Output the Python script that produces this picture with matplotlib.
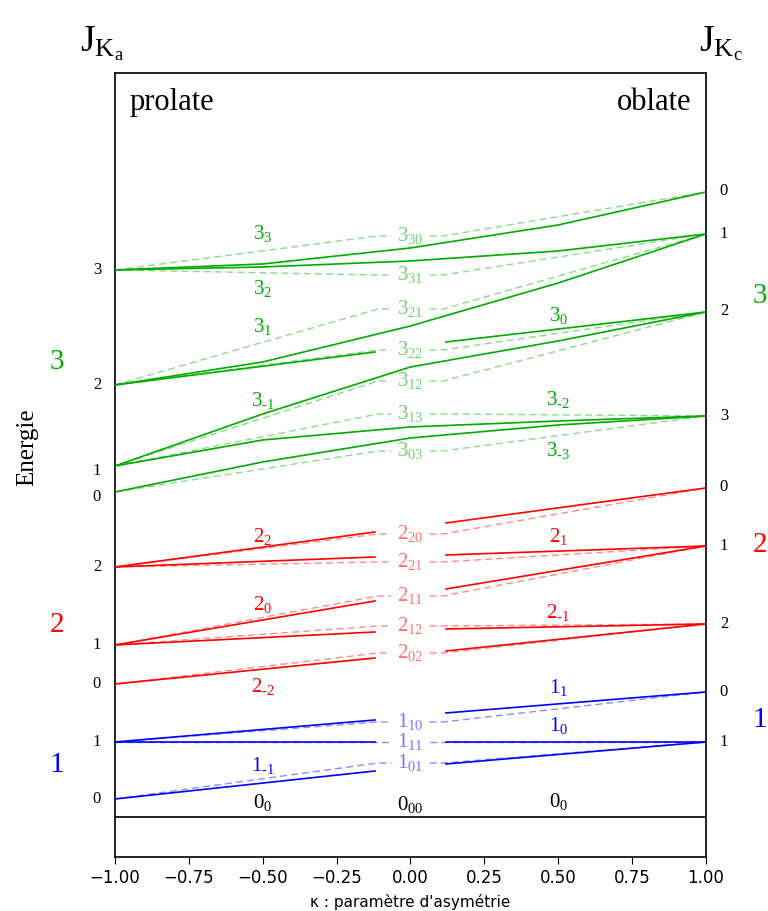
import numpy as np
import matplotlib
matplotlib.use('Agg')
import matplotlib.pyplot as plt

plt.rcParams['font.family'] = ['Liberation Serif', 'DejaVu Serif']
plt.rcParams['mathtext.fontset'] = 'custom'
plt.rcParams['mathtext.rm'] = 'Liberation Serif'
plt.rcParams['mathtext.it'] = 'Liberation Serif:italic'
plt.rcParams['mathtext.bf'] = 'Liberation Serif:bold'

nan = np.nan

# points en kappa pour les courbes
kappa_full = [-1.0, -0.5, 0.0, 0.5, 1.0]
kappa_split = [-1.0, -0.12, nan, 0.12, 1.0]

# niveau J=0
J0_energy = 0.0

# J = 1 : niveaux 1_01, 1_11, 1_10
J1_names = ['01', '11', '10']
J1_left = [1.8, 7.5, 7.5]
J1_mid = [5.4, 7.5, 9.5]
J1_right = [7.5, 7.5, 12.5]
J1_solid = [[1.8, 4.6, nan, 5.3, 7.5],
            [7.5, 7.5, nan, 7.5, 7.5],
            [7.5, 9.7, nan, 10.4, 12.5]]

# J = 2
J2_names = ['02', '12', '11', '21', '20']
J2_left = [13.3, 17.2, 17.2, 25.0, 25.0]
J2_mid = [16.4, 19.1, 22.1, 25.5, 28.3]
J2_right = [19.3, 19.3, 27.1, 27.1, 32.9]
J2_solid = [[13.3, 15.9, nan, 16.6, 19.3],
            [17.2, 18.5, nan, 18.8, 19.3],
            [17.2, 21.6, nan, 22.8, 27.1],
            [25.0, 26.0, nan, 26.2, 27.1],
            [25.0, 28.5, nan, 29.4, 32.9]]

# J = 3
J3_names = ['03', '13', '12', '22', '21', '31', '30']
J3_left = [32.5, 35.1, 35.1, 43.2, 43.2, 54.7, 54.7]
J3_mid = [36.6, 40.3, 43.6, 46.7, 50.8, 54.2, 58.1]
J3_right = [40.1, 40.1, 50.5, 50.5, 58.3, 58.3, 62.5]
J3_solid = [[32.5, 35.5, 37.9, 39.2, 40.1],
            [35.1, 37.7, 39.0, 39.6, 40.1],
            [35.1, 40.3, 45.0, 47.6, 50.5],
            [43.2, 46.5, nan, 47.5, 50.5],
            [43.2, 45.5, 49.1, 53.4, 58.3],
            [54.7, 55.0, 55.6, 56.6, 58.3],
            [54.7, 55.3, 56.9, 59.2, 62.5]]
J3_split = [False, False, False, True, False, False, False]

# etiquettes K (prolate a gauche, oblate a droite)
left_K_text = ['0', '1', '0', '1', '2', '0', '1', '2', '3']
left_K_y = [1.8, 7.5, 13.3, 17.2, 25.0, 32.0, 34.6, 43.2, 54.7]
right_K_text = ['1', '0', '2', '1', '0', '3', '2', '1', '0']
right_K_y = [7.5, 12.5, 19.3, 27.1, 33.0, 40.1, 50.6, 58.3, 62.6]

J_values = ['1', '2', '3']
J_colors = ['#0000ff', '#ff0000', '#00aa00']
J_left_y = [5.2, 19.2, 45.5]
J_right_y = [9.7, 27.2, 52.1]

# etiquettes J_K le long des courbes
prol_text = [r'$1_{\text{-1}}$', r'$2_{\text{-2}}$', r'$2_0$', r'$2_2$',
             r'$3_{\text{-1}}$', r'$3_1$', r'$3_2$', r'$3_3$']
prol_y = [5.1, 13.0, 21.2, 28.0, 41.6, 49.0, 52.8, 58.3]
prol_col = [0, 1, 1, 1, 2, 2, 2, 2]
obl_text = [r'$1_0$', r'$1_1$', r'$2_{\text{-1}}$', r'$2_1$',
            r'$3_{\text{-3}}$', r'$3_{\text{-2}}$', r'$3_0$']
obl_y = [9.1, 12.9, 20.4, 28.0, 36.6, 41.7, 50.1]
obl_col = [0, 0, 1, 1, 2, 2, 2]

fig = plt.figure(figsize=(7.68, 9.11), dpi=100)
ax = fig.add_axes([0.1497, 0.0593, 0.7695, 0.8606])


def draw_level(kap, solid, left, mid, right, name, col):
    ax.plot(kap, solid, color=col, lw=1.2, zorder=3)
    ax.plot([-1.0, -0.11, -0.065], [left, mid, mid], color=col, lw=1.0,
            ls=(0, (5, 3)), alpha=0.45, zorder=2)
    ax.plot([0.065, 0.11, 1.0], [mid, mid, right], color=col, lw=1.0,
            ls=(0, (5, 3)), alpha=0.45, zorder=2)
    ax.text(0.0, mid, '$' + name[0] + '_{' + name[1:] + '}$', color=col,
            alpha=0.55, fontsize=15, ha='center', va='center')


for i, n in enumerate(J1_names):
    draw_level(kappa_split, J1_solid[i], J1_left[i], J1_mid[i], J1_right[i],
               '1' + n, J_colors[0])
for i, n in enumerate(J2_names):
    draw_level(kappa_split, J2_solid[i], J2_left[i], J2_mid[i], J2_right[i],
               '2' + n, J_colors[1])
for i, n in enumerate(J3_names):
    kap = kappa_split if J3_split[i] else kappa_full
    draw_level(kap, J3_solid[i], J3_left[i], J3_mid[i], J3_right[i],
               '3' + n, J_colors[2])

# J = 0
ax.axhline(J0_energy, color='k', lw=1.2)
ax.text(-0.5, 1.4, r'$0_0$', fontsize=15, ha='center', va='center')
ax.text(0.0, 1.2, r'$0_{00}$', fontsize=15, ha='center', va='center')
ax.text(0.5, 1.5, r'$0_0$', fontsize=15, ha='center', va='center')

for t, y, c in zip(prol_text, prol_y, prol_col):
    ax.text(-0.5, y, t, fontsize=15, color=J_colors[c], ha='center', va='center')
for t, y, c in zip(obl_text, obl_y, obl_col):
    ax.text(0.5, y, t, fontsize=15, color=J_colors[c], ha='center', va='center')

tr = ax.get_yaxis_transform()
for t, y in zip(left_K_text, left_K_y):
    ax.annotate(t, (0, y), xycoords=tr, xytext=(-18, 0), textcoords='offset pixels',
                fontsize=12, ha='center', va='center', annotation_clip=False)
for t, y in zip(right_K_text, right_K_y):
    ax.annotate(t, (1, y), xycoords=tr, xytext=(18, 0), textcoords='offset pixels',
                fontsize=12, ha='center', va='center', annotation_clip=False)
for t, y, c in zip(J_values, J_left_y, J_colors):
    ax.annotate(t, (0, y), xycoords=tr, xytext=(-58, 0), textcoords='offset pixels',
                fontsize=21, color=c, ha='center', va='center', annotation_clip=False)
for t, y, c in zip(J_values, J_right_y, J_colors):
    ax.annotate(t, (1, y), xycoords=tr, xytext=(54, 0), textcoords='offset pixels',
                fontsize=21, color=c, ha='center', va='center', annotation_clip=False)

ax.text(0.025, 0.962, 'prolate', transform=ax.transAxes, fontsize=22,
        ha='left', va='center')
ax.text(0.975, 0.962, 'oblate', transform=ax.transAxes, fontsize=22,
        ha='right', va='center')

fig.text(0.133, 0.952, r'$\mathrm{J}_{\mathrm{K}_\mathrm{a}}$', fontsize=27,
         ha='center', va='center')
fig.text(0.938, 0.952, r'$\mathrm{J}_{\mathrm{K}_\mathrm{c}}$', fontsize=27,
         ha='center', va='center')
fig.text(0.035, 1 - 447 / 911, 'Energie', rotation=90, fontsize=18,
         ha='center', va='center')

ax.set_xlim(-1, 1)
ax.set_ylim(-4.0, 74.4)
ax.set_yticks([])
ax.set_xticks(np.arange(-1, 1.01, 0.25))
for lab in ax.get_xticklabels():
    lab.set_family('DejaVu Sans')
    lab.set_fontsize(12)
ax.tick_params(axis='x', length=5)
ax.set_xlabel("κ : paramètre d'asymétrie", family='DejaVu Sans', fontsize=11,
              labelpad=5)
for s in ax.spines.values():
    s.set_linewidth(1.2)

fig.savefig('out.png', dpi=100)
